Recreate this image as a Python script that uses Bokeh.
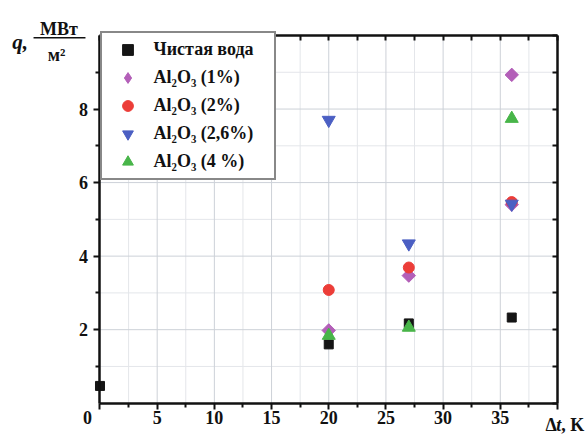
import math
from bokeh.plotting import figure
from bokeh.models import FixedTicker, LinearAxis, Range1d, Legend, LegendItem
from bokeh.core.properties import value
from bokeh.embed import file_html
from bokeh.resources import INLINE

# ---- data ----
x_ticks = [0, 5, 10, 15, 20, 25, 30, 35, 40]
x_minor = [2.5, 7.5, 12.5, 17.5, 22.5, 27.5, 32.5, 37.5]
y_ticks = [2, 4, 6, 8]
y_minor = [1, 3, 5, 7, 9]
x_grid_major = [5, 10, 15, 20, 25, 30, 35]
y_grid_major = [2, 4, 6, 8]

labels = ["Чистая вода", "Al₂O₃ (1%)", "Al₂O₃ (2%)", "Al₂O₃ (2,6%)", "Al₂O₃ (4 %)"]

dt_water = [0, 20, 27, 36]
q_water = [0.47, 1.60, 2.17, 2.33]

dt_1 = [20, 27, 36, 36]
q_1 = [1.98, 3.47, 5.40, 8.93]

dt_2 = [20, 27, 36]
q_2 = [3.08, 3.69, 5.47]

dt_26 = [20, 27, 36]
q_26 = [7.70, 4.34, 5.42]

dt_4 = [20, 27, 36]
q_4 = [1.84, 2.06, 7.74]

X_MIN, X_MAX = 0, 40
Y_MIN, Y_MAX = 0, 10

INK = "#111111"
SERIF = "Liberation Serif, serif"

# the frame fills the canvas; the axes box is drawn with fixed-location axes
p = figure(width=586, height=435,
           x_range=Range1d(-8.699, 42.536), y_range=Range1d(-0.878, 10.952),
           x_axis_type=None, y_axis_type=None,
           output_backend="svg", toolbar_location=None)
p.min_border = 0
p.outline_line_color = None
p.background_fill_color = "white"


def style_axis(ax, inward):
    ax.axis_line_width = 2.5
    ax.axis_line_color = INK
    ax.major_tick_line_width = 2
    ax.minor_tick_line_width = 2
    ax.major_tick_line_color = INK
    ax.minor_tick_line_color = INK
    if inward:
        ax.major_tick_in, ax.major_tick_out = 5, 0
        ax.minor_tick_in, ax.minor_tick_out = 5, 0
    else:
        ax.major_tick_in, ax.major_tick_out = 0, 6
        ax.minor_tick_in, ax.minor_tick_out = 0, 4


xb = LinearAxis(fixed_location=Y_MIN, bounds=(X_MIN, X_MAX),
                ticker=FixedTicker(ticks=x_ticks, minor_ticks=x_minor))
yl = LinearAxis(fixed_location=X_MIN, bounds=(Y_MIN, Y_MAX),
                ticker=FixedTicker(ticks=y_ticks, minor_ticks=y_minor))
xt = LinearAxis(fixed_location=Y_MAX, bounds=(X_MIN, X_MAX),
                ticker=FixedTicker(ticks=[], minor_ticks=x_ticks + x_minor))
yr = LinearAxis(fixed_location=X_MAX, bounds=(Y_MIN, Y_MAX),
                ticker=FixedTicker(ticks=[], minor_ticks=[0, 2, 4, 6, 8, 10] + y_minor))
style_axis(xb, False)
style_axis(yl, False)
style_axis(xt, True)
style_axis(yr, True)

for ax in (xb, yl):
    ax.major_label_text_font = SERIF
    ax.major_label_text_font_style = "bold"
    ax.major_label_text_font_size = "18px"
    ax.major_label_text_color = INK
xb.major_label_standoff = 2
xb.major_label_overrides = {0: "", 40: ""}
yl.major_label_standoff = 6

p.add_layout(xb, "below")
p.add_layout(yl, "left")
p.add_layout(xt, "above")
p.add_layout(yr, "right")

# grid lines inside the axes box
p.segment(x0=x_minor, y0=Y_MIN, x1=x_minor, y1=Y_MAX, line_color="#e4e6ea", line_width=1, level="underlay")
p.segment(x0=X_MIN, y0=y_minor, x1=X_MAX, y1=y_minor, line_color="#e4e6ea", line_width=1, level="underlay")
p.segment(x0=x_grid_major, y0=Y_MIN, x1=x_grid_major, y1=Y_MAX, line_color="#cdd1d8", line_width=1, level="underlay")
p.segment(x0=X_MIN, y0=y_grid_major, x1=X_MAX, y1=y_grid_major, line_color="#cdd1d8", line_width=1, level="underlay")

# data markers
r0 = p.scatter(dt_water, q_water, marker="square", size=9, color="#151515")
# diamond key for the legend (hidden beneath the rotated squares in the plot)
r1_key = p.scatter(dt_1, q_1, marker="diamond", size=12.5, color="#b35fb8")
r1 = p.scatter(dt_1, q_1, marker="square", angle=math.pi / 4, size=9.5, color="#b35fb8")
r2 = p.scatter(dt_2, q_2, marker="circle", size=11, color="#ec3d38")
r3 = p.scatter(dt_26, q_26, marker="inverted_triangle", size=13, color="#4b5fc3")
r4 = p.scatter(dt_4, q_4, marker="triangle", size=13, color="#48b549")

legend = Legend(items=[
    LegendItem(label=value(labels[0]), renderers=[r0]),
    LegendItem(label=value(labels[1]), renderers=[r1_key]),
    LegendItem(label=value(labels[2]), renderers=[r2]),
    LegendItem(label=value(labels[3]), renderers=[r3]),
    LegendItem(label=value(labels[4]), renderers=[r4]),
])
legend.location = (99.5, 255)
legend.margin = 0
legend.padding = 3
legend.spacing = 1
legend.glyph_width = 45
legend.glyph_height = 27
legend.label_height = 27
legend.label_width = 117
legend.label_standoff = 4
legend.label_text_font = SERIF
legend.label_text_font_style = "bold"
legend.label_text_font_size = "18px"
legend.label_text_color = INK
legend.border_line_color = INK
legend.border_line_width = 2
legend.background_fill_color = "white"
legend.background_fill_alpha = 1.0
p.add_layout(legend)

F = value(SERIF)
# y-axis title: q, МВт / м²
p.text(x=[-7.68], y=[9.818], text=["q,"], text_font=F, text_font_size="21px",
       text_font_style="bold italic", text_color=INK, text_align="left", text_baseline="alphabetic")
p.text(x=[-3.60], y=[10.18], text=["МВт"], text_font=F, text_font_size="18px",
       text_font_style="bold", text_color=INK, text_align="center", text_baseline="alphabetic")
p.text(x=[-3.80], y=[9.457], text=["м²"], text_font=F, text_font_size="18px",
       text_font_style="bold", text_color=INK, text_align="center", text_baseline="alphabetic")
p.segment(x0=[-5.81], y0=[9.937], x1=[-1.27], y1=[9.937], line_color=INK, line_width=1.5)

# x tick label "0" (set off to the left as in the reference) and x-axis title Δt, K
p.text(x=[-1.09], y=[-0.218], text=["0"], text_font=F, text_font_size="18px",
       text_font_style="bold", text_color=INK, text_align="center", text_baseline="top")
p.text(x=[38.95], y=[-0.60], text=["Δ"], text_font=F, text_font_size="18px",
       text_font_style="bold", text_color=INK, text_align="left", text_baseline="alphabetic")
p.text(x=[39.90], y=[-0.60], text=["t"], text_font=F, text_font_size="18px",
       text_font_style="bold italic", text_color=INK, text_align="left", text_baseline="alphabetic")
p.text(x=[40.33], y=[-0.60], text=[", K"], text_font=F, text_font_size="18px",
       text_font_style="bold", text_color=INK, text_align="left", text_baseline="alphabetic")

open("out.html", "w").write(file_html(p, INLINE))
